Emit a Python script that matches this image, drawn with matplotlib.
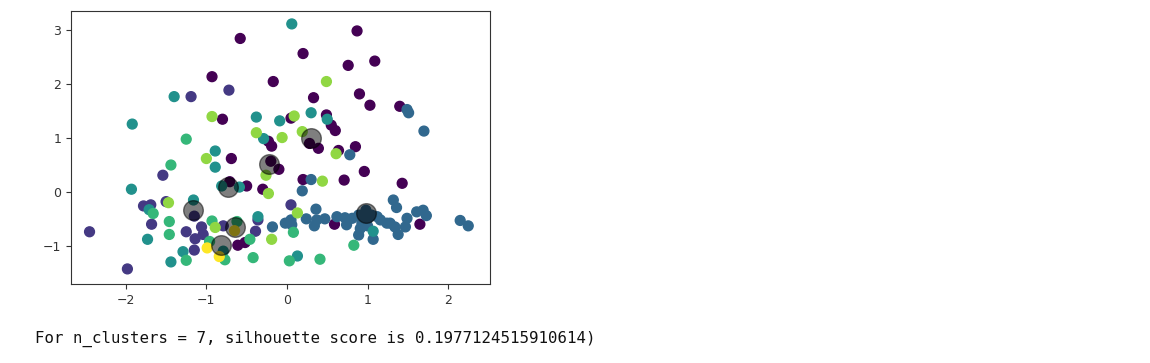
import numpy as np
import matplotlib
matplotlib.use("Agg")
import matplotlib.pyplot as plt

# ---- data ----
# cluster 0 (dark purple)
x0 = [-0.58, -0.93, -0.17, -0.80, -0.23, -0.19, 0.87, 0.20, 0.76, 1.09, 0.33, 0.90, 1.03, 1.40,
      0.05, 0.49, 0.55, 0.60, 0.28, 0.39, 0.64, 0.85, -0.69, -0.20, -0.10, -0.71, -0.50, -0.30,
      0.20, 0.71, 0.96, 1.43, 0.59, 1.65, -0.61, -0.52]
y0 = [2.85, 2.14, 2.05, 1.35, 0.94, 0.85, 2.99, 2.57, 2.35, 2.43, 1.75, 1.82, 1.61, 1.59,
      1.37, 1.43, 1.24, 1.14, 0.90, 0.81, 0.77, 0.84, 0.62, 0.57, 0.42, 0.19, 0.11, 0.05,
      0.23, 0.22, 0.38, 0.16, -0.60, -0.60, -0.99, -0.94]
# cluster 1 (indigo)
x1 = [-0.72, -1.19, -1.54, -1.78, -1.69, -1.50, -1.68, -2.45, -1.25, -1.14, -1.15, -1.06,
      -1.04, -0.79, -0.36, -0.39, -1.98, 0.05, -1.15]
y1 = [1.89, 1.77, 0.31, -0.26, -0.24, -0.18, -0.60, -0.74, -0.74, -0.87, -1.08, -0.65,
      -0.79, -0.63, -0.52, -0.73, -1.43, -0.24, -0.45]
# cluster 2 (blue)
x2 = [1.49, 1.51, 1.70, 0.78, 0.30, 0.19, 0.36, -0.18, -0.02, 0.05, 0.06, 0.24, 0.34, 0.37,
      0.47, 0.62, 0.72, 0.81, 0.74, 0.89, 0.93, 1.05, 1.12, 1.16, 1.24, 0.89, 0.91, 1.07,
      1.32, 1.36, 1.61, 1.69, 1.73, 1.28, 1.34, 1.49, 1.47, 1.38, 2.15, 2.25, 0.98, 1.01, 1.00]
y2 = [1.53, 1.47, 1.13, 0.69, 0.23, 0.02, -0.32, -0.65, -0.58, -0.52, -0.61, -0.50, -0.63, -0.52,
      -0.50, -0.46, -0.48, -0.49, -0.61, -0.43, -0.58, -0.43, -0.46, -0.52, -0.58, -0.80, -0.68, -0.88,
      -0.15, -0.29, -0.37, -0.34, -0.44, -0.58, -0.65, -0.49, -0.65, -0.79, -0.53, -0.63, -0.34, -0.48, -0.63]
# cluster 3 (teal)
x3 = [-1.40, -0.38, -0.09, -1.92, 0.06, 0.30, 0.50, -0.29, -0.89, -0.89, -1.93, -0.81, -0.59,
      -1.71, -1.16, -1.73, -0.36, -0.79, -1.29, -1.44, 1.07, 0.13]
y3 = [1.77, 1.39, 1.32, 1.26, 3.12, 1.47, 1.35, 0.99, 0.76, 0.46, 0.05, 0.11, 0.09,
      -0.33, -0.15, -0.88, -0.46, -1.10, -1.11, -1.30, -0.73, -1.19]
# cluster 4 (green)
x4 = [-1.25, -1.44, -1.66, -1.46, -1.46, -0.93, -0.62, -0.96, -0.77, -0.46, -0.42, -1.25,
      0.08, 0.83, 0.03, 0.41]
y4 = [0.98, 0.50, -0.40, -0.55, -0.79, -0.54, -0.55, -0.92, -1.26, -0.88, -1.22, -1.27,
      -0.75, -0.99, -1.28, -1.25]
# cluster 5 (light green)
x5 = [-0.93, -0.38, 0.09, -0.06, 0.19, 0.49, 0.61, -1.00, -0.26, -0.23, 0.44, -1.47, -0.89,
      -0.19, 0.13]
y5 = [1.40, 1.10, 1.41, 1.01, 1.12, 2.05, 0.71, 0.62, 0.31, -0.03, 0.20, -0.20, -0.66,
      -0.88, -0.39]
# cluster 6 (yellow)
x6 = [-0.65, -0.99, -0.84]
y6 = [-0.72, -1.04, -1.20]

# cluster centers
cx = [-1.16, -0.82, -0.65, -0.73, -0.22, 0.30, 0.98]
cy = [-0.34, -0.99, -0.65, 0.10, 0.51, 1.00, -0.40]

n_clusters = 7
score_text = "For n_clusters = 7, silhouette score is 0.1977124515910614)"

xs = [x0, x1, x2, x3, x4, x5, x6]
ys = [y0, y1, y2, y3, y4, y5, y6]
X = np.concatenate([np.array(v, float) for v in xs])
Y = np.concatenate([np.array(v, float) for v in ys])
labels = np.concatenate([np.full(len(v), i) for i, v in enumerate(xs)])

# ---- figure ----
fig = plt.figure(figsize=(11.5, 3.63), dpi=100)
ax = fig.add_axes([71 / 1150, 1 - 284 / 363, 419 / 1150, 273 / 363])

ax.scatter(X, Y, c=labels, s=50, cmap="viridis", vmin=0, vmax=n_clusters - 1)
ax.scatter(cx, cy, c="black", s=200, alpha=0.5)

ax.set_xlim(-2.68, 2.52)
ax.set_ylim(-1.71, 3.36)
ax.set_xticks([-2, -1, 0, 1, 2])
ax.set_yticks([-1, 0, 1, 2, 3])
ax.tick_params(labelsize=9, colors="#333333")
for sp in ax.spines.values():
    sp.set_color("#333333")

fig.text(35 / 1150, 1 - 343 / 363, score_text, family="DejaVu Sans Mono",
         fontsize=11.3, color="#111111", va="baseline", ha="left")

fig.savefig("out.png", dpi=100)
